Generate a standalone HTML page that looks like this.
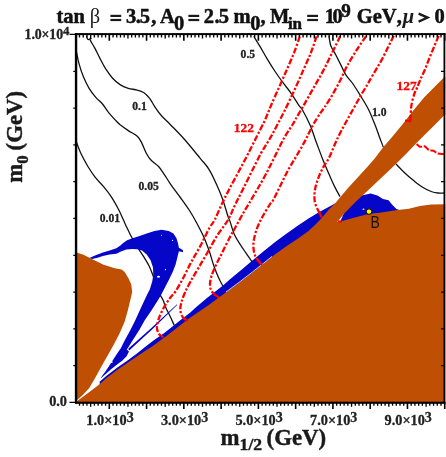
<!DOCTYPE html>
<html><head><meta charset="utf-8"><title>plot</title>
<style>html,body{margin:0;padding:0;background:#fff;}body{width:446px;height:457px;position:relative;overflow:hidden;font-family:"Liberation Serif",serif;}</style></head>
<body>
<svg width="446" height="457" viewBox="0 0 446 457" style="position:absolute;left:0;top:0;will-change:transform">
<rect width="446" height="457" fill="#fff"/>
<defs><clipPath id="cp"><rect x="76.3" y="34.1" width="369.2" height="368.59999999999997"/></clipPath></defs>
<g clip-path="url(#cp)">
<path d="M76.3,141.8 C77.1,143.9 79.3,150.0 81.2,154.1 C83.1,158.2 85.7,162.8 87.9,166.5 C90.2,170.2 92.1,173.2 94.7,176.6 C97.3,180.0 100.8,183.3 103.6,186.7 C106.4,190.1 109.1,193.5 111.5,197.2 C113.9,200.9 116.3,205.2 118.2,208.8 C120.1,212.4 121.5,215.6 122.8,218.5 C124.1,221.4 124.8,223.3 126.2,226.2 C127.6,229.1 129.2,232.5 131.0,236.0 C132.8,239.5 135.2,243.6 137.3,247.0 C139.4,250.4 141.6,253.3 143.5,256.4 C145.4,259.5 147.5,262.8 149.0,265.8 C150.5,268.8 151.4,271.4 152.6,274.4 C153.8,277.4 154.8,280.7 156.0,284.0 C157.2,287.3 158.5,291.3 159.7,294.0 C160.9,296.7 161.9,297.7 163.0,300.0 C164.1,302.3 164.8,305.3 166.0,308.0 C167.2,310.7 168.6,313.1 170.0,316.0 C171.4,318.9 173.5,323.8 174.2,325.3" fill="none" stroke="#111" stroke-width="1.3"/>
<path d="M76.3,51.3 C76.8,53.3 77.8,59.3 79.0,63.6 C80.2,67.9 81.8,73.0 83.5,77.1 C85.2,81.2 87.0,84.9 89.1,88.3 C91.1,91.7 93.6,94.7 95.8,97.3 C98.0,99.9 100.5,101.6 102.5,104.0 C104.5,106.4 105.8,109.0 108.1,111.8 C110.3,114.6 114.0,118.6 116.0,120.8 C118.0,123.0 118.4,123.4 120.4,125.0 C122.5,126.6 125.5,128.7 128.3,130.6 C131.1,132.5 135.1,134.1 137.3,136.2 C139.5,138.2 140.2,140.1 141.7,142.9 C143.2,145.7 144.7,150.2 146.2,153.0 C147.7,155.8 148.6,157.6 150.7,159.8 C152.8,162.1 156.3,164.1 158.6,166.5 C160.8,168.9 162.3,171.5 164.2,174.3 C166.1,177.1 167.4,179.5 170.0,183.3 C172.6,187.1 176.8,192.6 180.0,197.0 C183.2,201.4 186.4,205.6 189.2,210.0 C192.0,214.4 194.6,219.0 197.0,223.5 C199.4,228.0 201.7,232.3 203.8,237.0 C205.9,241.7 207.7,246.7 209.4,251.5 C211.1,256.3 212.4,261.7 213.9,266.0 C215.4,270.3 216.9,273.9 218.4,277.3 C219.9,280.7 222.2,284.7 222.9,286.2" fill="none" stroke="#111" stroke-width="1.3"/>
<path d="M86.5,36.0 C86.8,36.6 87.2,39.1 88.0,39.5 C88.8,39.9 90.6,38.4 91.0,38.5 C91.4,38.6 89.6,38.5 90.2,40.1 C90.8,41.7 93.0,44.7 94.7,47.9 C96.4,51.1 98.4,55.5 100.3,59.1 C102.2,62.7 103.9,66.0 105.9,69.2 C108.0,72.4 110.2,75.6 112.6,78.2 C115.0,80.8 117.8,83.2 120.4,84.9 C123.0,86.6 125.5,87.4 128.3,88.3 C131.1,89.2 134.7,89.3 137.3,90.1 C139.9,90.8 141.9,91.4 144.0,92.8 C146.1,94.2 147.7,96.0 149.6,98.4 C151.5,100.8 153.1,104.4 155.2,107.4 C157.2,110.4 159.4,113.5 161.9,116.3 C164.4,119.1 166.2,120.2 170.0,124.2 C173.8,128.2 180.0,134.3 185.0,140.0 C190.0,145.7 196.0,153.2 200.0,158.1 C204.0,163.0 206.2,164.8 209.0,169.3 C211.8,173.8 214.6,180.1 216.8,185.0 C219.0,189.9 220.5,193.3 222.4,198.5 C224.3,203.7 226.7,212.6 228.0,216.4 C229.3,220.2 228.9,218.3 230.0,221.4 C231.1,224.5 232.6,230.7 234.5,234.8 C236.4,238.9 238.8,242.2 241.2,246.0 C243.6,249.8 246.9,254.3 249.0,257.3 C251.1,260.3 252.2,261.9 253.5,264.0 C254.8,266.1 256.0,268.7 256.5,269.6" fill="none" stroke="#111" stroke-width="1.3"/>
<path d="M253.8,36.3 C254.8,37.9 257.2,41.9 259.5,45.7 C261.8,49.5 264.7,54.8 267.3,59.1 C269.9,63.4 272.5,67.6 275.1,71.5 C277.7,75.4 280.4,79.2 283.0,82.7 C285.6,86.2 288.2,89.1 290.8,92.8 C293.4,96.5 296.8,102.2 298.7,105.1 C300.6,108.0 300.6,106.6 302.5,110.0 C304.4,113.4 308.1,120.5 310.4,125.7 C312.6,130.9 313.9,135.8 316.0,141.4 C318.1,147.0 320.5,153.7 322.7,159.3 C324.9,164.9 327.3,170.3 329.4,175.0 C331.4,179.7 333.2,183.8 335.0,187.4 C336.8,191.0 339.2,195.1 340.0,196.6" fill="none" stroke="#111" stroke-width="1.3"/>
<path d="M329.0,36.3 C329.3,37.9 329.7,42.6 330.8,45.7 C331.9,48.8 333.9,51.3 335.7,54.7 C337.4,58.1 339.6,62.5 341.3,65.9 C343.0,69.3 344.1,72.3 346.0,75.2 C347.9,78.1 350.3,80.0 352.7,83.5 C355.1,87.0 358.0,91.6 360.6,95.9 C363.2,100.2 366.0,104.5 368.4,109.3 C370.8,114.1 373.2,120.3 375.1,125.0 C377.0,129.7 378.2,133.7 379.6,137.4 C381.0,141.1 382.8,145.7 383.4,147.4" fill="none" stroke="#111" stroke-width="1.3"/>
<path d="M395.8,163.9 C397.2,165.3 401.4,169.7 404.3,172.4 C407.2,175.1 410.3,177.9 413.3,180.3 C416.3,182.7 419.2,185.1 422.2,187.0 C425.2,188.9 428.6,190.5 431.2,191.5 C433.8,192.5 435.8,192.8 437.9,193.0 C440.0,193.2 443.0,193.0 444.0,193.0" fill="none" stroke="#111" stroke-width="1.3"/>
<path d="M99.6,381.8 L106.2,376.0 L117.4,367.6 L128.6,359.8 L137.6,353.0 L145.0,347.0 L154.5,339.8 L164.0,333.2 L173.4,325.8 L182.8,318.3 L190.0,312.8 L196.0,307.2 L207.3,297.8 L223.0,285.4 L230.0,279.3 L241.2,270.0 L252.4,260.4 L263.6,251.2 L274.8,242.2 L286.0,234.0 L297.3,226.0 L308.5,218.6 L319.7,211.8 L331.4,205.6 L335.9,203.0 L340.0,206.0 L330.0,225.0 L240.0,295.0 L150.0,358.0 L100.0,390.0Z" fill="#0606C8"/>
<path d="M350.0,200.0 L357.0,193.0 L361.0,195.6 L365.0,194.8 L370.7,193.5 L377.4,195.6 L383.0,199.0 L388.6,200.2 L392.0,204.5 L396.4,209.0 L400.0,210.3 L400.0,216.0 L350.0,225.0 L340.0,222.0Z" fill="#0606C8"/>
<path d="M89.3,258.0 L96.2,255.0 L102.9,252.4 L109.6,250.4 L116.4,248.3 L120.4,245.6 L123.1,243.0 L127.1,240.3 L132.5,238.3 L138.8,236.3 L146.7,233.6 L154.5,231.0 L161.6,229.7 L168.7,231.0 L173.4,233.6 L176.5,238.3 L178.1,243.8 L178.9,247.8 L182.8,250.1 L183.2,252.2 L178.9,251.2 L177.6,256.4 L175.7,264.2 L172.7,272.1 L168.8,279.9 L164.8,287.8 L161.6,294.0 L158.4,299.4 L151.4,310.4 L144.9,320.0 L139.3,330.1 L132.7,340.2 L128.2,347.6 L126.8,349.6 L129.0,351.6 L126.6,356.3 L122.1,360.8 L117.4,364.3 L110.5,369.8 L104.0,375.5 L100.6,378.6 L102.0,375.9 L105.8,370.9 L109.4,365.6 L112.0,361.4 L116.0,355.3 L120.8,348.3 L124.8,340.2 L130.4,330.1 L134.8,321.3 L138.8,312.5 L143.5,302.3 L147.9,293.0 L149.8,289.4 L152.2,281.5 L153.3,275.2 L153.0,267.4 L150.6,260.3 L146.7,254.4 L142.0,250.6 L137.3,249.2 L132.6,248.9 L126.3,249.6 L120.4,251.8 L116.4,253.8 L109.6,254.6 L102.9,256.0 L97.5,257.8 L92.4,258.9Z" fill="#0606C8"/>
<path d="M177.0,304.3 L165.4,315.0 L151.9,327.6 L138.5,339.6 L128.2,348.8 L129.2,350.6 L139.3,341.2 L152.6,328.9 L165.9,316.0 L177.1,304.9Z" fill="#0606C8"/>
<ellipse cx="158.5" cy="276.8" rx="1.5" ry="1.0" fill="#fff"/>
<ellipse cx="165.5" cy="269.7" rx="0.6" ry="0.6" fill="#fff"/>
<ellipse cx="172.6" cy="240.4" rx="0.6" ry="0.6" fill="#fff"/>
<ellipse cx="161.6" cy="235.2" rx="0.5" ry="0.5" fill="#fff"/>
<ellipse cx="363.5" cy="209.2" rx="1.0" ry="0.6" fill="#fff"/>
<ellipse cx="111.8" cy="362.1" rx="0.9" ry="0.9" fill="#fff"/>
<path d="M76.5,401.5 L81.3,398.0 L90.7,391.0 L99.5,384.3 L106.2,378.2 L117.4,369.8 L128.6,362.0 L137.6,356.0 L145.0,350.9 L151.4,347.0 L167.1,335.6 L182.8,323.2 L190.0,317.8 L207.3,306.0 L223.0,294.6 L240.0,282.0 L252.4,272.4 L263.6,263.6 L274.8,254.4 L286.0,246.4 L297.3,239.0 L308.5,231.0 L316.0,224.0 L322.4,217.3 L329.1,209.2 L335.9,202.5 L340.4,196.9 L348.5,187.4 L357.2,178.0 L368.4,165.7 L375.1,158.0 L383.0,147.4 L390.8,138.6 L402.0,125.0 L413.3,110.4 L424.5,97.0 L435.7,85.8 L443.5,77.9 L445.5,76.0 L445.5,114.5 L443.5,116.0 L435.7,123.9 L424.5,135.1 L415.5,144.1 L406.5,153.6 L397.6,162.3 L388.6,171.0 L378.5,180.5 L367.3,191.0 L356.0,201.5 L344.8,213.0 L337.0,222.0 L343.0,220.8 L349.3,218.9 L360.5,216.0 L369.5,213.8 L379.6,212.8 L390.8,211.0 L397.6,210.1 L408.8,208.7 L420.0,206.0 L431.2,204.5 L445.5,204.3 L445.5,403.0 L76.5,403.0Z" fill="#BF4F02"/>
<path d="M76.5,252.5 L83.5,254.8 L92.4,259.2 L103.6,264.8 L114.8,268.2 L121.6,269.5 L124.7,272.0 L128.6,278.4 L131.3,284.6 L132.2,292.0 L130.2,300.4 L127.8,310.4 L124.7,321.4 L120.0,332.5 L114.1,344.0 L108.5,354.1 L102.8,364.1 L98.4,372.0 L95.0,378.2 L89.1,388.2 L82.8,395.0 L77.4,399.8 L76.5,400.5Z" fill="#BF4F02"/>
<path d="M226,292.0 L240,281.6 L252.4,272.0 L263.6,263.2 L272,256.4" fill="none" stroke="#fff" stroke-width="0.9" opacity="0.85"/>
<path d="M299.8,36.3 C298.9,39.0 296.2,47.1 294.2,52.4 C292.1,57.7 289.9,62.5 287.5,68.1 C285.1,73.7 282.4,79.8 279.6,86.1 C276.8,92.4 273.1,100.5 270.7,106.2 C268.3,111.9 267.4,114.7 265.0,120.0 C262.6,125.3 259.0,132.0 256.0,138.0 C253.0,144.0 250.0,150.1 247.0,155.9 C244.0,161.7 241.1,167.1 238.1,172.7 C235.1,178.3 231.9,184.1 229.1,189.5 C226.3,194.9 223.7,200.1 221.3,205.2 C218.9,210.3 216.6,216.2 214.6,220.0 C212.6,223.8 211.8,223.7 209.4,228.0 C207.0,232.3 203.4,240.3 200.4,245.9 C197.4,251.5 194.3,256.4 191.5,261.6 C188.7,266.8 186.2,272.4 183.6,277.3 C181.0,282.2 178.0,287.6 175.8,291.0 C173.6,294.4 172.2,295.1 170.2,297.8 C168.2,300.5 165.8,304.0 164.0,307.3 C162.2,310.6 160.4,314.2 159.2,317.5 C158.0,320.8 157.0,324.3 156.9,326.9 C156.8,329.5 157.6,331.5 158.5,333.2 C159.4,334.9 161.8,336.5 162.4,337.2" fill="none" stroke="#FF0000" stroke-width="2.3" stroke-dasharray="6 1.9 2.2 1.9"/>
<path d="M316.6,36.3 C315.7,39.0 313.2,46.7 311.0,52.4 C308.8,58.1 306.0,64.1 303.2,70.4 C300.4,76.8 297.3,83.8 294.2,90.5 C291.1,97.2 287.3,105.2 284.6,110.7 C281.9,116.2 280.0,119.6 278.0,123.5 C276.0,127.4 274.2,130.9 272.4,134.2 C270.6,137.4 269.1,139.8 267.2,143.0 C265.3,146.2 263.4,148.8 260.8,153.6 C258.2,158.4 254.7,165.6 251.7,171.6 C248.7,177.6 245.6,183.9 242.8,189.5 C240.0,195.1 237.4,200.1 234.9,205.2 C232.4,210.3 230.9,215.0 228.0,220.0 C225.1,225.0 220.8,229.9 217.3,235.4 C213.8,240.9 210.4,247.5 207.2,253.0 C204.0,258.5 201.0,263.5 198.2,268.3 C195.4,273.1 192.6,277.6 190.4,281.7 C188.2,285.8 186.3,289.6 184.8,293.0 C183.3,296.4 182.2,299.2 181.5,302.0 C180.8,304.8 180.1,307.5 180.3,310.0 C180.5,312.5 181.6,315.3 182.6,317.0 C183.6,318.7 185.8,319.8 186.5,320.4" fill="none" stroke="#FF0000" stroke-width="2.3" stroke-dasharray="6 1.9 2.2 1.9"/>
<path d="M340.2,36.3 C338.9,39.0 335.1,46.7 332.3,52.4 C329.5,58.1 326.6,64.4 323.4,70.4 C320.2,76.4 316.7,82.3 313.3,88.3 C309.9,94.3 306.2,101.0 303.2,106.2 C300.2,111.4 297.0,116.7 295.3,119.7 C293.6,122.7 294.9,121.0 293.0,124.0 C291.1,127.0 287.1,132.7 284.1,138.0 C281.1,143.3 278.1,149.9 275.1,155.9 C272.1,161.9 269.1,168.2 266.1,173.8 C263.1,179.4 260.1,184.6 257.2,189.5 C254.3,194.4 251.5,199.3 249.0,203.5 C246.5,207.7 244.5,210.8 242.3,214.7 C240.1,218.6 237.7,223.3 235.6,227.0 C233.5,230.7 232.3,232.7 230.0,237.0 C227.7,241.3 224.3,248.3 222.0,253.0 C219.7,257.7 217.8,261.2 216.0,265.0 C214.2,268.8 212.5,272.8 211.5,276.0 C210.5,279.2 210.1,281.7 210.0,284.0 C209.9,286.3 210.3,288.3 211.0,290.0 C211.7,291.7 212.8,292.8 214.0,294.0 C215.2,295.2 217.7,296.8 218.4,297.4" fill="none" stroke="#FF0000" stroke-width="2.3" stroke-dasharray="6 1.9 2.2 1.9"/>
<path d="M366.0,36.3 C364.7,38.2 360.6,44.0 358.0,48.0 C355.4,52.0 352.5,56.6 350.5,60.0 C348.5,63.4 347.7,64.7 346.0,68.1 C344.3,71.5 342.5,75.9 340.2,80.4 C337.9,84.9 334.9,90.5 332.3,95.0 C329.7,99.5 326.5,104.4 324.5,107.4 C322.5,110.4 322.4,110.0 320.4,113.0 C318.4,116.0 315.2,121.0 312.6,125.7 C310.0,130.4 307.6,136.2 304.8,141.4 C302.0,146.6 298.6,152.2 295.8,157.1 C293.0,161.9 290.5,165.7 287.9,170.5 C285.3,175.3 282.5,181.3 280.1,186.2 C277.7,191.1 275.0,196.8 273.4,199.7 C271.8,202.6 272.0,201.0 270.4,203.5 C268.8,206.0 265.7,211.0 263.6,214.7 C261.5,218.4 259.6,222.0 258.0,225.9 C256.4,229.8 254.9,234.5 254.2,238.2 C253.4,241.9 253.2,245.1 253.5,248.3 C253.8,251.5 254.5,254.6 255.8,257.3 C257.1,260.0 260.5,263.3 261.4,264.5" fill="none" stroke="#FF0000" stroke-width="2.3" stroke-dasharray="6 1.9 2.2 1.9"/>
<path d="M393.8,35.8 C392.9,37.6 390.3,42.6 388.4,46.5 C386.4,50.4 384.2,55.2 382.1,59.1 C380.0,63.0 378.0,66.2 375.9,69.8 C373.8,73.4 371.0,78.1 369.6,80.6 C368.2,83.1 368.8,82.2 367.3,84.7 C365.8,87.2 363.0,91.7 360.6,95.9 C358.2,100.1 355.5,105.0 352.7,110.0 C349.9,115.0 346.8,120.5 344.0,125.7 C341.2,130.9 338.5,136.2 336.1,141.4 C333.7,146.6 331.6,152.6 329.4,157.1 C327.2,161.6 324.6,164.6 322.7,168.3 C320.8,172.0 319.1,175.8 317.8,179.5 C316.5,183.2 315.3,187.0 314.8,190.7 C314.3,194.4 314.2,198.5 314.8,201.9 C315.4,205.3 317.5,208.8 318.6,211.3 C319.7,213.8 321.0,216.1 321.5,217.0" fill="none" stroke="#FF0000" stroke-width="2.3" stroke-dasharray="6 1.9 2.2 1.9"/>
<path d="M438.6,35.8 C437.9,37.6 435.7,42.9 434.2,46.5 C432.7,50.1 431.2,53.6 429.7,57.3 C428.2,61.0 426.7,65.3 425.2,68.9 C423.7,72.5 422.0,75.7 420.7,78.8 C419.4,81.9 418.2,85.3 417.1,87.8 C416.1,90.3 415.3,90.8 414.4,93.6 C413.5,96.4 412.1,101.1 411.5,104.8 C410.9,108.5 410.8,113.3 410.6,116.0 C410.4,118.7 410.3,120.2 410.2,121.0" fill="none" stroke="#FF0000" stroke-width="2.3" stroke-dasharray="6 1.9 2.2 1.9"/>
<path d="M416.6,144.0 C417.2,144.5 418.7,146.4 420.0,146.8 C421.3,147.2 423.0,145.8 424.5,146.3 C426.0,146.8 427.5,149.2 429.0,150.0 C430.5,150.8 431.9,150.2 433.4,150.8 C434.9,151.4 436.2,153.0 438.0,153.5 C439.8,154.0 443.0,153.9 444.0,154.0" fill="none" stroke="#FF0000" stroke-width="2" stroke-dasharray="6.5 1.6"/>
<path d="M159.5,334.5 L163.5,337.5" stroke="#FF0000" stroke-width="2" fill="none"/>
<path d="M183.5,318 L188,321" stroke="#FF0000" stroke-width="2" fill="none"/>
<path d="M214,294 L219,297.6" stroke="#FF0000" stroke-width="2" fill="none"/>
<path d="M256.5,258.5 L262,265" stroke="#FF0000" stroke-width="2" fill="none"/>
<path d="M318.8,211.5 L321.8,217.5" stroke="#FF0000" stroke-width="2" fill="none"/>
<path d="M338,221.3 L342,221.8" stroke="#FF0000" stroke-width="2" fill="none"/>
<path d="M405,120.5 L411,121.3" stroke="#FF0000" stroke-width="2" fill="none"/>
</g>
<circle cx="369.0" cy="211.6" r="2.75" fill="#FFFF00" stroke="#000" stroke-width="1.0"/>
<rect x="74.85" y="33.1" width="2.4" height="370.59999999999997" fill="#000"/>
<rect x="75.0" y="401.7" width="370.5" height="2.1" fill="#000"/>
<rect x="75.0" y="33.1" width="370.5" height="2.0" fill="#000"/>
<rect x="443.5" y="33.1" width="1.8" height="370.59999999999997" fill="#000"/>
<path d="M79.48,402.7 v3.1 M79.48,34.1 v3.3 M83.21,402.7 v3.1 M83.21,34.1 v3.3 M86.94,402.7 v3.1 M86.94,34.1 v3.3 M90.66,402.7 v4.0 M90.66,34.1 v4.4 M94.39,402.7 v3.1 M94.39,34.1 v3.3 M98.12,402.7 v3.1 M98.12,34.1 v3.3 M101.85,402.7 v3.1 M101.85,34.1 v3.3 M105.57,402.7 v3.1 M105.57,34.1 v3.3 M113.03,402.7 v3.1 M113.03,34.1 v3.3 M116.75,402.7 v3.1 M116.75,34.1 v3.3 M120.48,402.7 v3.1 M120.48,34.1 v3.3 M124.21,402.7 v3.1 M124.21,34.1 v3.3 M127.94,402.7 v4.0 M127.94,34.1 v4.4 M131.66,402.7 v3.1 M131.66,34.1 v3.3 M135.39,402.7 v3.1 M135.39,34.1 v3.3 M139.12,402.7 v3.1 M139.12,34.1 v3.3 M142.84,402.7 v3.1 M142.84,34.1 v3.3 M150.30,402.7 v3.1 M150.30,34.1 v3.3 M154.02,402.7 v3.1 M154.02,34.1 v3.3 M157.75,402.7 v3.1 M157.75,34.1 v3.3 M161.48,402.7 v3.1 M161.48,34.1 v3.3 M165.20,402.7 v4.0 M165.20,34.1 v4.4 M168.93,402.7 v3.1 M168.93,34.1 v3.3 M172.66,402.7 v3.1 M172.66,34.1 v3.3 M176.39,402.7 v3.1 M176.39,34.1 v3.3 M180.11,402.7 v3.1 M180.11,34.1 v3.3 M187.57,402.7 v3.1 M187.57,34.1 v3.3 M191.29,402.7 v3.1 M191.29,34.1 v3.3 M195.02,402.7 v3.1 M195.02,34.1 v3.3 M198.75,402.7 v3.1 M198.75,34.1 v3.3 M202.47,402.7 v4.0 M202.47,34.1 v4.4 M206.20,402.7 v3.1 M206.20,34.1 v3.3 M209.93,402.7 v3.1 M209.93,34.1 v3.3 M213.66,402.7 v3.1 M213.66,34.1 v3.3 M217.38,402.7 v3.1 M217.38,34.1 v3.3 M224.84,402.7 v3.1 M224.84,34.1 v3.3 M228.56,402.7 v3.1 M228.56,34.1 v3.3 M232.29,402.7 v3.1 M232.29,34.1 v3.3 M236.02,402.7 v3.1 M236.02,34.1 v3.3 M239.75,402.7 v4.0 M239.75,34.1 v4.4 M243.47,402.7 v3.1 M243.47,34.1 v3.3 M247.20,402.7 v3.1 M247.20,34.1 v3.3 M250.93,402.7 v3.1 M250.93,34.1 v3.3 M254.65,402.7 v3.1 M254.65,34.1 v3.3 M262.11,402.7 v3.1 M262.11,34.1 v3.3 M265.83,402.7 v3.1 M265.83,34.1 v3.3 M269.56,402.7 v3.1 M269.56,34.1 v3.3 M273.29,402.7 v3.1 M273.29,34.1 v3.3 M277.01,402.7 v4.0 M277.01,34.1 v4.4 M280.74,402.7 v3.1 M280.74,34.1 v3.3 M284.47,402.7 v3.1 M284.47,34.1 v3.3 M288.20,402.7 v3.1 M288.20,34.1 v3.3 M291.92,402.7 v3.1 M291.92,34.1 v3.3 M299.38,402.7 v3.1 M299.38,34.1 v3.3 M303.10,402.7 v3.1 M303.10,34.1 v3.3 M306.83,402.7 v3.1 M306.83,34.1 v3.3 M310.56,402.7 v3.1 M310.56,34.1 v3.3 M314.28,402.7 v4.0 M314.28,34.1 v4.4 M318.01,402.7 v3.1 M318.01,34.1 v3.3 M321.74,402.7 v3.1 M321.74,34.1 v3.3 M325.47,402.7 v3.1 M325.47,34.1 v3.3 M329.19,402.7 v3.1 M329.19,34.1 v3.3 M336.65,402.7 v3.1 M336.65,34.1 v3.3 M340.37,402.7 v3.1 M340.37,34.1 v3.3 M344.10,402.7 v3.1 M344.10,34.1 v3.3 M347.83,402.7 v3.1 M347.83,34.1 v3.3 M351.56,402.7 v4.0 M351.56,34.1 v4.4 M355.28,402.7 v3.1 M355.28,34.1 v3.3 M359.01,402.7 v3.1 M359.01,34.1 v3.3 M362.74,402.7 v3.1 M362.74,34.1 v3.3 M366.46,402.7 v3.1 M366.46,34.1 v3.3 M373.92,402.7 v3.1 M373.92,34.1 v3.3 M377.64,402.7 v3.1 M377.64,34.1 v3.3 M381.37,402.7 v3.1 M381.37,34.1 v3.3 M385.10,402.7 v3.1 M385.10,34.1 v3.3 M388.82,402.7 v4.0 M388.82,34.1 v4.4 M392.55,402.7 v3.1 M392.55,34.1 v3.3 M396.28,402.7 v3.1 M396.28,34.1 v3.3 M400.01,402.7 v3.1 M400.01,34.1 v3.3 M403.73,402.7 v3.1 M403.73,34.1 v3.3 M411.19,402.7 v3.1 M411.19,34.1 v3.3 M414.91,402.7 v3.1 M414.91,34.1 v3.3 M418.64,402.7 v3.1 M418.64,34.1 v3.3 M422.37,402.7 v3.1 M422.37,34.1 v3.3 M426.10,402.7 v4.0 M426.10,34.1 v4.4 M429.82,402.7 v3.1 M429.82,34.1 v3.3 M433.55,402.7 v3.1 M433.55,34.1 v3.3 M437.28,402.7 v3.1 M437.28,34.1 v3.3 M441.00,402.7 v3.1 M441.00,34.1 v3.3" stroke="#000" stroke-width="1.35" fill="none"/>
<path d="M109.30,402.7 v6.2 M109.30,34.1 v6.7 M146.57,402.7 v6.2 M146.57,34.1 v6.7 M183.84,402.7 v6.2 M183.84,34.1 v6.7 M221.11,402.7 v6.2 M221.11,34.1 v6.7 M258.38,402.7 v6.2 M258.38,34.1 v6.7 M295.65,402.7 v6.2 M295.65,34.1 v6.7 M332.92,402.7 v6.2 M332.92,34.1 v6.7 M370.19,402.7 v6.2 M370.19,34.1 v6.7 M407.46,402.7 v6.2 M407.46,34.1 v6.7 M444.73,402.7 v6.2 M444.73,34.1 v6.7" stroke="#000" stroke-width="1.6" fill="none"/>
<path d="M69.5,402.45 H76.3 M73.3,365.65 H76.3 M441.0,365.65 H444.5 M73.3,328.85 H76.3 M441.0,328.85 H444.5 M73.3,292.05 H76.3 M441.0,292.05 H444.5 M73.3,255.25 H76.3 M441.0,255.25 H444.5 M73.3,218.45 H76.3 M441.0,218.45 H444.5 M73.3,181.65 H76.3 M441.0,181.65 H444.5 M73.3,144.85 H76.3 M441.0,144.85 H444.5 M73.3,108.05 H76.3 M441.0,108.05 H444.5 M73.3,71.25 H76.3 M441.0,71.25 H444.5 M69.5,34.45 H76.3" stroke="#000" stroke-width="1.25" fill="none"/>
<text x="110.0" y="424.7" font-size="14.3" text-anchor="middle" fill="#222" stroke="#222" stroke-width="0.3" font-family="Liberation Serif, serif" font-weight="bold">1.0×10<tspan dy="-2.9" font-size="14.0">3</tspan></text>
<text x="184.6" y="424.7" font-size="14.3" text-anchor="middle" fill="#222" stroke="#222" stroke-width="0.3" font-family="Liberation Serif, serif" font-weight="bold">3.0×10<tspan dy="-2.9" font-size="14.0">3</tspan></text>
<text x="259.1" y="424.7" font-size="14.3" text-anchor="middle" fill="#222" stroke="#222" stroke-width="0.3" font-family="Liberation Serif, serif" font-weight="bold">5.0×10<tspan dy="-2.9" font-size="14.0">3</tspan></text>
<text x="333.7" y="424.7" font-size="14.3" text-anchor="middle" fill="#222" stroke="#222" stroke-width="0.3" font-family="Liberation Serif, serif" font-weight="bold">7.0×10<tspan dy="-2.9" font-size="14.0">3</tspan></text>
<text x="408.2" y="424.7" font-size="14.3" text-anchor="middle" fill="#222" stroke="#222" stroke-width="0.3" font-family="Liberation Serif, serif" font-weight="bold">9.0×10<tspan dy="-2.9" font-size="14.0">3</tspan></text>
<text x="69.3" y="38.9" font-size="13.9" text-anchor="end" fill="#222" stroke="#222" stroke-width="0.3" letter-spacing="-0.12" font-family="Liberation Serif, serif" font-weight="bold">1.0×10<tspan dy="-3.6" font-size="12.8">4</tspan></text>
<text x="67.0" y="406.4" font-size="14.3" text-anchor="end" fill="#222" stroke="#222" stroke-width="0.3" font-family="Liberation Serif, serif" font-weight="bold" >0.0</text>
<text x="99.8" y="221.5" font-size="11.6" text-anchor="start" fill="#222" stroke="#222" stroke-width="0.3" font-family="Liberation Serif, serif" font-weight="bold" >0.01</text>
<text x="138.5" y="189.7" font-size="11.6" text-anchor="start" fill="#222" stroke="#222" stroke-width="0.3" font-family="Liberation Serif, serif" font-weight="bold" >0.05</text>
<text x="132.3" y="110.1" font-size="11.6" text-anchor="start" fill="#222" stroke="#222" stroke-width="0.3" font-family="Liberation Serif, serif" font-weight="bold" >0.1</text>
<text x="240.6" y="58.0" font-size="11.6" text-anchor="start" fill="#222" stroke="#222" stroke-width="0.3" font-family="Liberation Serif, serif" font-weight="bold" >0.5</text>
<text x="372.0" y="115.7" font-size="11.6" text-anchor="start" fill="#222" stroke="#222" stroke-width="0.3" font-family="Liberation Serif, serif" font-weight="bold" >1.0</text>
<text x="233.8" y="131.8" font-size="13.4" text-anchor="start" fill="#FF0000" stroke="#FF0000" stroke-width="0.3" font-family="Liberation Serif, serif" font-weight="bold" >122</text>
<text x="396.6" y="89.8" font-size="13.4" text-anchor="start" fill="#FF0000" stroke="#FF0000" stroke-width="0.3" font-family="Liberation Serif, serif" font-weight="bold" >127</text>
<text transform="translate(370.6,227.9) scale(0.87,1)" font-size="16.0" fill="#111" font-family="Liberation Sans, sans-serif">B</text>
<text x="56.4" y="22.6" font-size="20.5" fill="#111" stroke="#111" stroke-width="0.5" font-family="Liberation Serif, serif" font-weight="bold" >tan</text>
<text x="89.7" y="22.6" font-size="20.5" fill="#1a1a1a" font-family="Liberation Serif, serif">β</text>
<rect x="110.4" y="14.8" width="10.8" height="2.2" fill="#1a1a1a"/><rect x="110.4" y="18.9" width="10.8" height="2.2" fill="#1a1a1a"/>
<text x="125.9" y="22.6" font-size="20.5" fill="#111" stroke="#111" stroke-width="0.5" font-family="Liberation Serif, serif" font-weight="bold" >3</text>
<text x="135.8" y="22.6" font-size="20.5" fill="#111" stroke="#111" stroke-width="0.5" font-family="Liberation Serif, serif" font-weight="bold" >.</text>
<text x="139.8" y="22.6" font-size="20.5" fill="#111" stroke="#111" stroke-width="0.5" font-family="Liberation Serif, serif" font-weight="bold" >5</text>
<text x="151.2" y="22.6" font-size="20.5" fill="#111" stroke="#111" stroke-width="0.5" font-family="Liberation Serif, serif" font-weight="bold" >,</text>
<text x="159.9" y="22.6" font-size="20.5" fill="#111" stroke="#111" stroke-width="0.5" font-family="Liberation Serif, serif" font-weight="bold" >A</text>
<text x="173.9" y="29.5" font-size="20.5" fill="#111" stroke="#111" stroke-width="0.5" font-family="Liberation Serif, serif" font-weight="bold" >0</text>
<rect x="188.4" y="14.8" width="10.8" height="2.2" fill="#1a1a1a"/><rect x="188.4" y="18.9" width="10.8" height="2.2" fill="#1a1a1a"/>
<text x="203.7" y="22.6" font-size="20.5" fill="#111" stroke="#111" stroke-width="0.5" font-family="Liberation Serif, serif" font-weight="bold" >2</text>
<text x="214.6" y="22.6" font-size="20.5" fill="#111" stroke="#111" stroke-width="0.5" font-family="Liberation Serif, serif" font-weight="bold" >.</text>
<text x="218.8" y="22.6" font-size="20.5" fill="#111" stroke="#111" stroke-width="0.5" font-family="Liberation Serif, serif" font-weight="bold" >5</text>
<text x="233.4" y="22.6" font-size="20.5" fill="#111" stroke="#111" stroke-width="0.5" font-family="Liberation Serif, serif" font-weight="bold" >m</text>
<text x="250.2" y="29.6" font-size="20.5" fill="#111" stroke="#111" stroke-width="0.5" font-family="Liberation Serif, serif" font-weight="bold" >0</text>
<text x="260.6" y="22.6" font-size="20.5" fill="#111" stroke="#111" stroke-width="0.5" font-family="Liberation Serif, serif" font-weight="bold" >,</text>
<text x="269.9" y="22.6" font-size="20.5" fill="#111" stroke="#111" stroke-width="0.5" font-family="Liberation Serif, serif" font-weight="bold" >M</text>
<text x="287.9" y="29.1" font-size="17" fill="#111" stroke="#111" stroke-width="0.5" font-family="Liberation Serif, serif" font-weight="bold" >in</text>
<rect x="307.2" y="14.8" width="10.8" height="2.2" fill="#1a1a1a"/><rect x="307.2" y="18.9" width="10.8" height="2.2" fill="#1a1a1a"/>
<text x="324.7" y="22.6" font-size="20.5" fill="#111" stroke="#111" stroke-width="0.5" font-family="Liberation Serif, serif" font-weight="bold" >1</text>
<text x="332.4" y="22.6" font-size="20.5" fill="#111" stroke="#111" stroke-width="0.5" font-family="Liberation Serif, serif" font-weight="bold" >0</text>
<text x="341.2" y="17.200000000000003" font-size="19" fill="#111" stroke="#111" stroke-width="0.5" font-family="Liberation Serif, serif" font-weight="bold" >9</text>
<text x="356.7" y="22.6" font-size="20.5" fill="#111" stroke="#111" stroke-width="0.5" font-family="Liberation Serif, serif" font-weight="bold" >GeV</text>
<text x="396.8" y="22.6" font-size="20.5" fill="#111" stroke="#111" stroke-width="0.5" font-family="Liberation Serif, serif" font-weight="bold" >,</text>
<text x="402.8" y="22.6" font-size="20.5" fill="#1a1a1a" font-family="Liberation Serif, serif" font-style="italic" font-weight="bold">μ</text>
<path d="M418.6,13.6 L427.6,17.6 L418.6,21.6" fill="none" stroke="#1a1a1a" stroke-width="2.3" stroke-linejoin="miter"/>
<text x="434.4" y="22.6" font-size="20.5" fill="#111" stroke="#111" stroke-width="0.5" font-family="Liberation Serif, serif" font-weight="bold" >0</text>
<text x="220.6" y="445.0" font-size="22.8" fill="#1a1a1a" stroke="#1a1a1a" stroke-width="0.45" font-family="Liberation Serif, serif" font-weight="bold">m<tspan dy="5.4" font-size="17.6">1/2</tspan></text>
<text x="266.6" y="445.0" font-size="22.8" fill="#1a1a1a" stroke="#1a1a1a" stroke-width="0.45" font-family="Liberation Serif, serif" font-weight="bold">(GeV)</text>
<text transform="translate(22.3,182.8) rotate(-90)" font-size="22.8" fill="#1a1a1a" stroke="#1a1a1a" stroke-width="0.45" font-family="Liberation Serif, serif" font-weight="bold">m<tspan dy="5.6" font-size="16.8">0</tspan></text>
<text transform="translate(22.3,150.4) rotate(-90)" font-size="22.8" fill="#1a1a1a" stroke="#1a1a1a" stroke-width="0.45" font-family="Liberation Serif, serif" font-weight="bold">(GeV)</text>
</svg>
</body></html>
